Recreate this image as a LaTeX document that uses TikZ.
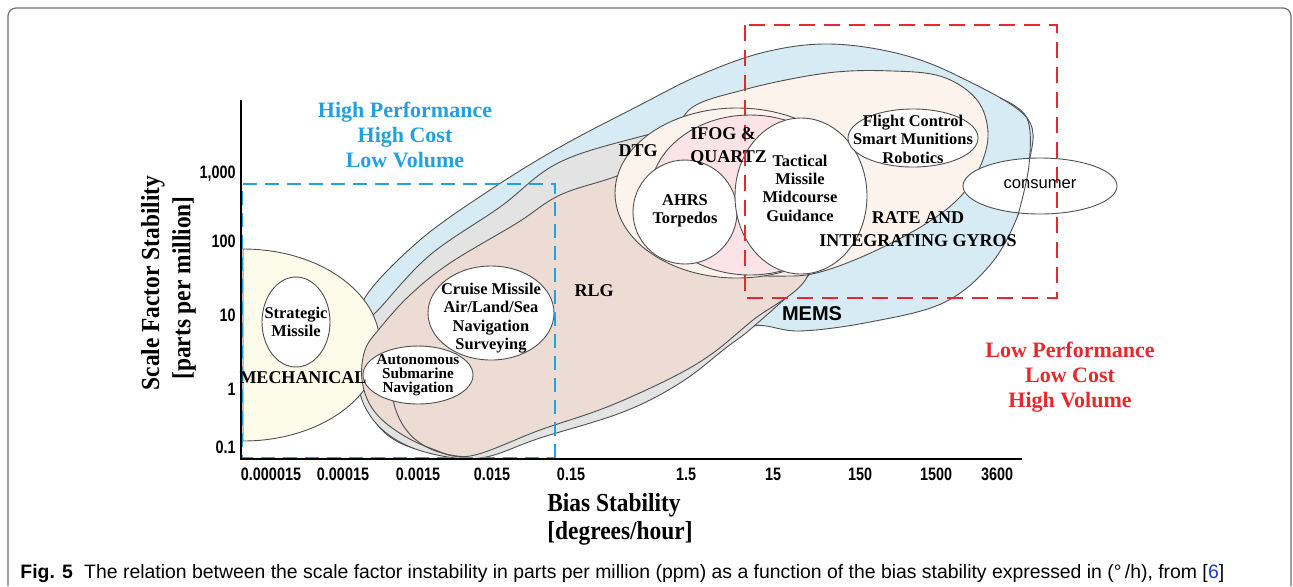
\documentclass[tikz,border=0pt]{standalone}
\usepackage{fontspec}
\setmainfont{Liberation Serif}
\setsansfont{Liberation Sans}
\newfontfamily\tickfont[FakeStretch=0.8]{Liberation Sans}
\newfontfamily\titlefont[FakeStretch=0.9]{Liberation Serif}
\newfontfamily\capfont{Liberation Sans}
\usepackage{xcolor}
\definecolor{memsblue}{RGB}{214,235,243}
\definecolor{dtggray}{RGB}{227,227,227}
\definecolor{rlgbrown}{RGB}{236,220,211}
\definecolor{mechyellow}{RGB}{253,251,233}
\definecolor{ratecream}{RGB}{253,243,237}
\definecolor{ifogpink}{RGB}{251,227,231}
\definecolor{hpblue}{RGB}{35,160,222}
\definecolor{lpred}{RGB}{232,40,46}
\definecolor{edge}{RGB}{80,80,80}
\definecolor{framegray}{RGB}{110,110,110}
\definecolor{refblue}{RGB}{20,60,220}

\begin{document}
\begin{tikzpicture}[x=0.5pt,y=-0.5pt,
  blob/.style={draw=edge,line width=0.45pt},
  lbl/.style={font=\bfseries\fontsize{8.2}{9.2}\selectfont,align=center,inner sep=0pt},
  biglbl/.style={font=\bfseries\fontsize{9}{11.5}\selectfont,align=center,inner sep=0pt},
  ticklbl/.style={font=\tickfont\bfseries\fontsize{9}{10}\selectfont,inner sep=0pt},
  axlbl/.style={font=\titlefont\bfseries\fontsize{13}{14}\selectfont,inner sep=0pt},
  zone/.style={font=\bfseries\fontsize{11}{12.5}\selectfont,align=center,inner sep=0pt}]
  \useasboundingbox (0,0) rectangle (1293,586);
  \draw[framegray,line width=0.6pt,rounded corners=4pt] (8,586) -- (8,8) -- (1291,8) -- (1291,586);

  \draw[blob,fill=memsblue] plot[smooth cycle,tension=0.6] coordinates {(366,296) (420,240) (490,190) (560,147) (640,105) (700,75) (765,52) (830,44) (900,54) (960,77) (1027,118) (1029,165) (1018,215) (990,265) (943,303) (870,322) (800,331) (753,326) (720,350) (675,383) (620,410) (540,435) (480,452) (420,450) (380,428) (362,385) (362,330)};
  \draw[blob,fill=dtggray] plot[smooth cycle,tension=0.6] coordinates {(480,458) (425,452) (385,432) (362,400) (358,360) (365,325) (380,308) (430,255) (500,207) (560,162) (650,134) (747,110) (800,150) (820,250) (807,277) (753,327) (727,347) (680,383) (623,412) (540,438)};
  \draw[blob,fill=mechyellow] (243,249) arc[start angle=-90,end angle=90,x radius=137,y radius=96] -- cycle;
  \draw[blob,fill=rlgbrown] plot[smooth cycle,tension=0.6] coordinates {(470,456) (430,448) (395,430) (372,408) (362,380) (365,350) (380,328) (410,295) (450,263) (517,223) (560,195) (617,176) (670,153) (760,150) (800,220) (807,277) (753,320) (713,353) (673,377) (607,407) (540,430)};
  \draw[blob] (393,400) .. controls (402,440) and (430,455) .. (468,457);
  \draw[blob,fill=ratecream] plot[smooth cycle,tension=0.6] coordinates {(687,112) (743,90) (827,73) (893,71) (943,77) (977,100) (988,133) (980,167) (960,197) (927,223) (877,250) (827,270) (790,276) (740,270) (700,230) (680,160)};
  \draw[blob,fill=ratecream] (737,193) ellipse[x radius=122,y radius=85];
  \draw[blob,fill=ifogpink] (750,195) ellipse[x radius=100,y radius=80];
  \draw[blob,fill=white] (685,212) circle[radius=52];
  \draw[blob,fill=white] (801,196) ellipse[x radius=66,y radius=78];
  \draw[blob,fill=white] (913,138) ellipse[x radius=65,y radius=29];
  \draw[blob,fill=white] (1040,186) ellipse[x radius=77,y radius=28];
  \draw[blob] plot[smooth,tension=0.6] coordinates {(1000,98) (1027,118) (1029,165) (1018,215)};
  \draw[blob,fill=white] (296,322) ellipse[x radius=34,y radius=45];
  \draw[blob,fill=white] (491,313) ellipse[x radius=63,y radius=47];
  \draw[blob,fill=white] (418,375) ellipse[x radius=55,y radius=29];

  \draw[hpblue,line width=1.2pt,dash pattern=on 7pt off 4pt] (555,458) -- (555,184) -- (242,184) -- (242,458) -- cycle;
  \draw[lpred,line width=1.1pt,dash pattern=on 8pt off 4.5pt] (745,25) rectangle (1057,298);
  \coordinate (O) at (241,459); \coordinate (Ytop) at (241,100); \coordinate (Xend) at (1022,459);
  \draw[black,line width=0.8pt] (Ytop) -- (O) -- (Xend);

  \node[zone,text=hpblue] (hp) at (405,135) {High Performance\\High Cost\\Low Volume};
  \node[zone,text=lpred] (lp) at (1070,377) {Low Performance\\Low Cost\\High Volume};

  \node[lbl] (strat) at (296,322) {Strategic\\Missile};
  \node[lbl] (cruise) at (491,318) {Cruise Missile\\Air/Land/Sea\\Navigation\\Surveying};
  \node[lbl,font=\bfseries\fontsize{7.6}{7}\selectfont] (auv) at (418,375) {Autonomous\\Submarine\\Navigation};
  \node[biglbl] (mech) at (303,378) {MECHANICAL};
  \node[biglbl] (rlg) at (594,291) {RLG};
  \node[biglbl] (dtg) at (638,151) {DTG};
  \node[biglbl,align=left,anchor=north west] (ifog) at (690,127) {IFOG \&\\QUARTZ};
  \node[lbl] (ahrs) at (685,211) {AHRS\\Torpedos};
  \node[lbl] (tact) at (800,188) {Tactical\\Missile\\Midcourse\\Guidance};
  \node[lbl] (flight) at (913,139) {Flight Control\\Smart Munitions\\Robotics};
  \node[biglbl] (rate) at (918,229) {RATE AND\\INTEGRATING GYROS};
  \node[font=\sffamily\bfseries\fontsize{10}{12}\selectfont,inner sep=0pt] (mems) at (812,314) {MEMS};
  \node[font=\sffamily\fontsize{8.3}{10}\selectfont,inner sep=0pt] (cons) at (1040,184) {consumer};

  \foreach \xv/\xl [count=\i] in {271/0.000015,343/0.00015,418/0.0015,492/0.015,571/0.15,686/1.5,773/15,860/150,936/1500,997/3600}
    \node[ticklbl] (xt\i) at (\xv,474) {\xl};
  \foreach \yv/\yl [count=\i] in {174/{1,000},241/100,315/10,389/1,447/0.1}
    \node[ticklbl,anchor=east] (yt\i) at (236,\yv) {\yl};

  \node[axlbl] (xlab) at (614,505) {Bias Stability};
  \node[axlbl] (xunit) at (620,533) {[degrees/hour]};
  \node[axlbl,rotate=90] (ylab) at (153,283) {Scale Factor Stability};
  \node[axlbl,rotate=90] (yunit) at (184,288) {[parts per million]};

  \node[anchor=base west,inner sep=0pt,font=\capfont\fontsize{9.7}{11}\selectfont] (cap) at (20,578) {\textbf{Fig. 5}\hspace{3pt} The relation between the scale factor instability in parts per million (ppm) as a function of the bias stability expressed in (°\,/h), from [\textcolor{refblue}{6}]};
\end{tikzpicture}
\end{document}
